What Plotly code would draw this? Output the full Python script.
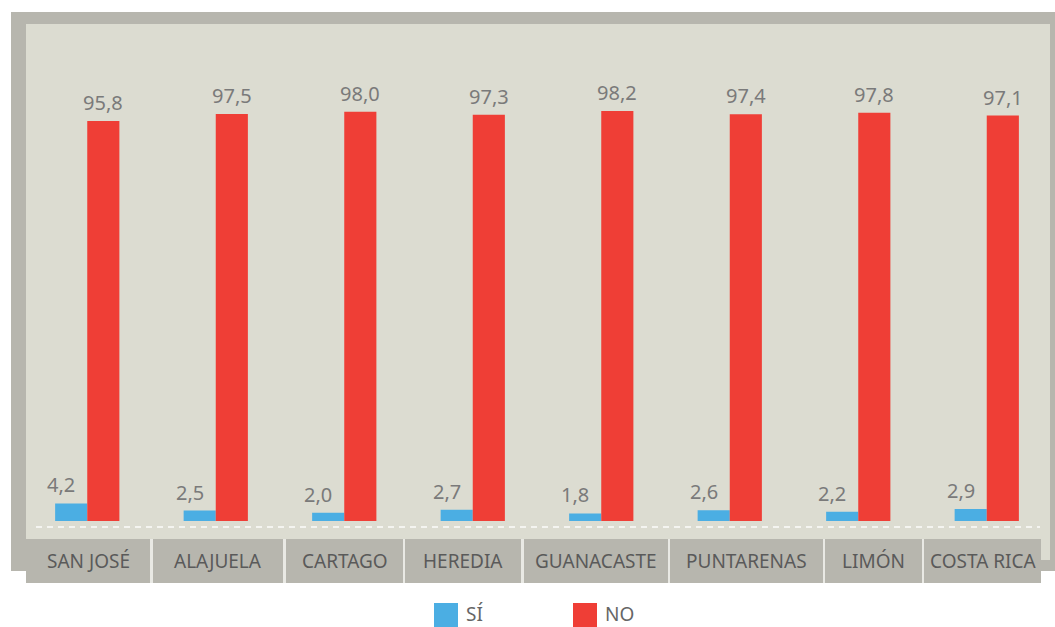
import plotly.graph_objects as go

# ---- data ----
categories = ["SAN JOSÉ", "ALAJUELA", "CARTAGO", "HEREDIA",
              "GUANACASTE", "PUNTARENAS", "LIMÓN", "COSTA RICA"]
series_names = ["SÍ", "NO"]
si_values = [4.2, 2.5, 2.0, 2.7, 1.8, 2.6, 2.2, 2.9]
no_values = [95.8, 97.5, 98.0, 97.3, 98.2, 97.4, 97.8, 97.1]

# ---- style ----
BLUE = "#4baee3"
RED = "#ef3e36"
FRAME = "#b7b6ae"
PANEL = "#dcdcd1"
SEP = "#e9e9e4"
FONT = "Noto Sans"

W_PX, H_PX = 1055, 627
L, R, T, B = 23, 1051, 24, 521          # plot area in pixels


def xp(px):
    return (px - L) / (R - L)


def yp(py):
    return (B - py) / (B - T)


def fmt(v):
    return f"{v:.1f}".replace(".", ",")


fig = go.Figure()
fig.add_trace(go.Bar(x=categories, y=si_values, name=series_names[0],
                     marker=dict(color=BLUE, line=dict(width=0)),
                     showlegend=False, hoverinfo="x+y"))
fig.add_trace(go.Bar(x=categories, y=no_values, name=series_names[1],
                     marker=dict(color=RED, line=dict(width=0)),
                     showlegend=False, hoverinfo="x+y"))

shapes = []
# outer frame
shapes.append(dict(type="rect", xref="paper", yref="paper", layer="below",
                   x0=xp(11), x1=xp(1056), y0=yp(571), y1=yp(12),
                   fillcolor=FRAME, line=dict(width=0)))
# inner panel
shapes.append(dict(type="rect", xref="paper", yref="paper", layer="below",
                   x0=xp(26), x1=xp(1050), y0=yp(560), y1=yp(24),
                   fillcolor=PANEL, line=dict(width=0)))
# separator strip behind category boxes
shapes.append(dict(type="rect", xref="paper", yref="paper", layer="below",
                   x0=xp(26), x1=xp(1041), y0=yp(583), y1=yp(539),
                   fillcolor=SEP, line=dict(width=0)))
# category boxes (pixel edges)
box_edges = [(26, 150), (153, 283), (286, 403), (405, 521),
             (524, 668), (670, 823), (825, 922), (924, 1041)]
for (a, b) in box_edges:
    shapes.append(dict(type="rect", xref="paper", yref="paper", layer="below",
                       x0=xp(a), x1=xp(b), y0=yp(583), y1=yp(539),
                       fillcolor=FRAME, line=dict(width=0)))
# dashed baseline
shapes.append(dict(type="line", xref="paper", yref="paper", layer="below",
                   x0=xp(36), x1=xp(1040), y0=yp(527), y1=yp(527),
                   line=dict(color="#f4f4f0", width=2, dash="6px,5px")))

annotations = []
# category labels centered in boxes
for name, (a, b) in zip(categories, box_edges):
    annotations.append(dict(xref="paper", yref="paper",
                            x=xp((a + b) / 2), y=yp(561),
                            text=name, showarrow=False,
                            xanchor="center", yanchor="middle",
                            font=dict(family=FONT, size=19, color="#5a5a5a")))
# value labels
for i, (s, n) in enumerate(zip(si_values, no_values)):
    annotations.append(dict(x=i - 0.125, y=s, xref="x", yref="y",
                            text=fmt(s), showarrow=False,
                            xanchor="center", yanchor="bottom",
                            xshift=-10, yshift=3,
                            font=dict(family=FONT, size=20, color="#7a7a7a")))
    annotations.append(dict(x=i + 0.125, y=n, xref="x", yref="y",
                            text=fmt(n), showarrow=False,
                            xanchor="center", yanchor="bottom", yshift=3,
                            font=dict(family=FONT, size=20, color="#7a7a7a")))

# custom legend
legend_items = [(series_names[0], BLUE, 434), (series_names[1], RED, 573)]
for name, col, x0 in legend_items:
    shapes.append(dict(type="rect", xref="paper", yref="paper",
                       x0=xp(x0), x1=xp(x0 + 24), y0=yp(627), y1=yp(603),
                       fillcolor=col, line=dict(width=0)))
    annotations.append(dict(xref="paper", yref="paper",
                            x=xp(x0 + 31), y=yp(614), text=name,
                            showarrow=False, xanchor="left", yanchor="middle",
                            borderpad=0,
                            font=dict(family=FONT, size=19, color="#666666")))

fig.update_layout(
    width=W_PX, height=H_PX,
    margin=dict(l=L, r=W_PX - R, t=T, b=H_PX - B, pad=0),
    paper_bgcolor="white",
    plot_bgcolor="rgba(0,0,0,0)",
    barmode="group", bargap=0.5, bargroupgap=0,
    xaxis=dict(showticklabels=False, showgrid=False, zeroline=False,
               showline=False, ticks="", fixedrange=True),
    yaxis=dict(range=[0, (B - T) / 4.175], showticklabels=False,
               showgrid=False, zeroline=False, showline=False, ticks="",
               fixedrange=True),
    shapes=shapes, annotations=annotations,
    showlegend=False,
    font=dict(family=FONT),
)

fig.write_html("out.html", config={"displayModeBar": False},
               post_script="document.body.style.margin='0';"
                           "document.body.style.overflow='hidden';")
